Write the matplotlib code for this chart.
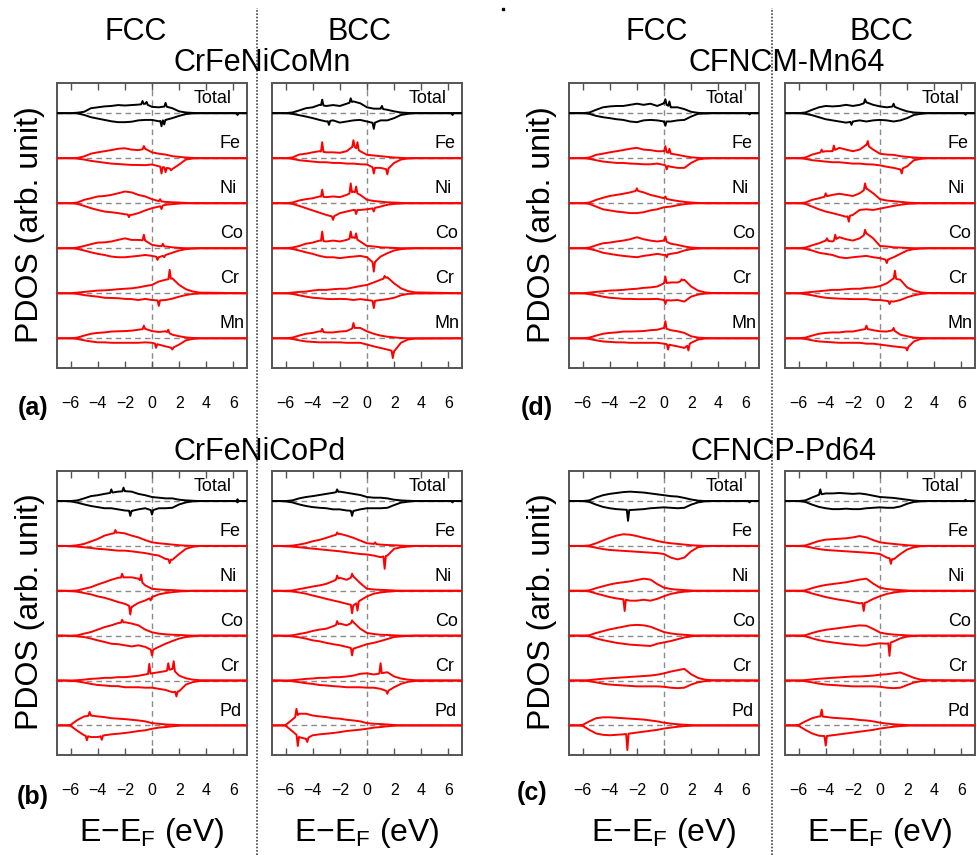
import numpy as np
import matplotlib.pyplot as plt
from matplotlib.lines import Line2D

plt.rcParams['font.family'] = 'Liberation Sans'
plt.rcParams['mathtext.default'] = 'regular'

# ---------- data: spin-resolved PDOS read on a 0.5 eV grid ----------
ENERGY = [-6.5, -6.0, -5.5, -5.0, -4.5, -4.0, -3.5, -3.0, -2.5, -2.0, -1.5,
          -1.0, -0.5, 0.0, 0.5, 1.0, 1.5, 2.0, 2.5, 3.0, 3.5]

SPECIES_MN = ["Total", "Fe", "Ni", "Co", "Cr", "Mn"]
SPECIES_PD = ["Total", "Fe", "Ni", "Co", "Cr", "Pd"]

# (a) CrFeNiCoMn, FCC
A_FCC_UP = [
    [0, 0, 0.1, 0.3, 1.1, 1.3, 1.5, 1.6, 1.8, 1.7, 1.8, 1.9, 2.1, 1.4, 1.3, 1.5, 1.1, 0.4, 0.15, 0.05, 0],
    [0, 0, 0.05, 0.4, 1.0, 1.3, 1.55, 1.8, 2.1, 2.2, 1.9, 1.8, 2.1, 1.3, 1.0, 0.8, 0.45, 0.3, 0.15, 0.07, 0],
    [0, 0, 0.15, 0.75, 1.1, 1.5, 1.6, 1.85, 2.2, 2.6, 2.4, 1.85, 1.5, 0.9, 0.45, 0.3, 0.2, 0.15, 0.07, 0, 0],
    [0, 0, 0.15, 0.5, 0.9, 1.25, 1.3, 1.5, 1.85, 2.2, 1.85, 1.85, 1.7, 0.75, 0.5, 0.4, 0.2, 0.07, 0, 0, 0],
    [0, 0, 0.15, 0.3, 0.45, 0.6, 0.65, 0.75, 0.9, 1.0, 1.1, 1.3, 1.6, 1.85, 2.6, 3.0, 3.3, 1.85, 0.9, 0.4, 0.15],
    [0, 0, 0.15, 0.6, 1.0, 1.2, 1.3, 1.5, 1.55, 1.6, 1.7, 1.9, 2.1, 1.6, 1.4, 1.55, 0.8, 0.45, 0.2, 0.07, 0],
]
A_FCC_DN = [
    [0, 0, -0.05, -0.4, -0.9, -1.2, -1.5, -1.8, -2.0, -2.0, -1.9, -1.6, -1.5, -1.5, -1.8, -1.5, -1.1, -0.6, -0.2, -0.05, 0],
    [0, 0, -0.1, -0.3, -0.6, -0.8, -1.0, -1.2, -1.3, -1.4, -1.5, -1.5, -1.55, -1.4, -1.8, -2.1, -2.4, -1.4, -0.3, -0.07, 0],
    [0, 0, -0.15, -0.6, -1.1, -1.5, -1.85, -2.0, -2.2, -2.45, -2.6, -2.2, -1.6, -1.1, -0.75, -0.35, -0.2, -0.07, 0, 0, 0],
    [0, 0, -0.15, -0.5, -0.9, -1.25, -1.5, -1.85, -2.0, -2.0, -1.85, -1.7, -1.5, -1.7, -2.0, -1.5, -1.0, -0.5, -0.2, -0.07, 0],
    [0, 0, -0.15, -0.4, -0.6, -0.75, -1.0, -1.05, -1.1, -1.25, -1.3, -1.5, -1.25, -1.5, -1.6, -1.5, -1.2, -0.75, -0.4, -0.15, -0.05],
    [0, 0, -0.15, -0.45, -0.7, -0.9, -0.9, -1.0, -1.0, -1.0, -1.0, -1.0, -0.9, -1.0, -1.4, -1.8, -2.15, -1.4, -0.45, -0.15, 0],
]
A_FCC_SPIKES = [(0, -0.7, 2.7), (0, -0.4, 2.5), (0, 1.0, 2.3), (0, 0.7, -2.9), (0, 0.9, -2.5), (0, 6.3, -0.4),
                (1, -0.6, 2.7), (1, 0.7, -3.4), (1, 1.0, -3.1), (1, 1.4, -2.7),
                (2, -1.7, -3.1), (2, 0.6, 0.9), (2, 0.7, -1.3),
                (3, -0.6, 3.0), (3, 0.8, 1.0), (3, 0.4, -2.6), (3, 0.9, -2.0),
                (4, 1.3, 5.2), (4, 0.5, -2.8),
                (5, -0.6, 2.8), (5, 1.2, 1.9), (5, 0.3, -2.1), (5, 1.5, -2.5)]

# (a) CrFeNiCoMn, BCC
A_BCC_UP = [
    [0, 0, 0.15, 0.6, 1.1, 1.3, 1.85, 1.6, 1.8, 1.6, 2.1, 2.6, 2.2, 1.3, 1.0, 1.0, 0.75, 0.4, 0.15, 0.05, 0],
    [0, 0, 0.15, 0.8, 1.0, 1.3, 1.55, 1.3, 1.3, 1.2, 1.55, 2.7, 1.55, 0.75, 0.6, 0.45, 0.3, 0.15, 0.07, 0, 0],
    [0, 0, 0.15, 0.6, 0.9, 1.1, 1.5, 1.35, 1.5, 1.35, 1.85, 2.6, 1.85, 0.75, 0.5, 0.35, 0.2, 0.15, 0.07, 0, 0],
    [0, 0, 0.15, 0.5, 1.0, 1.25, 1.7, 1.5, 1.7, 1.5, 1.85, 2.45, 1.5, 0.5, 0.4, 0.2, 0.15, 0.07, 0, 0, 0],
    [0, 0, 0.15, 0.3, 0.37, 0.6, 0.75, 0.75, 0.9, 1.0, 1.0, 1.3, 1.6, 1.85, 2.4, 3.0, 3.55, 2.2, 1.1, 0.5, 0.2],
    [0, 0, 0.15, 0.6, 1.0, 1.2, 1.55, 1.3, 1.3, 1.5, 1.6, 2.3, 2.3, 1.55, 1.0, 0.6, 0.35, 0.2, 0.07, 0, 0],
]
A_BCC_DN = [
    [0, 0, -0.15, -0.45, -0.75, -1.1, -1.5, -1.85, -1.6, -2.1, -1.85, -1.6, -1.5, -1.85, -2.2, -1.6, -1.6, -1.1, -0.4, -0.15, 0],
    [0, 0, -0.15, -0.45, -0.6, -0.75, -0.9, -0.9, -1.05, -1.05, -1.2, -1.2, -1.35, -1.4, -2.15, -2.15, -2.5, -1.05, -0.3, -0.07, 0],
    [0, 0, -0.15, -0.6, -1.1, -1.6, -2.1, -2.6, -3.0, -2.2, -1.85, -1.5, -1.5, -1.35, -1.1, -0.75, -0.35, -0.15, -0.07, 0, 0],
    [0, 0, -0.15, -0.5, -0.9, -1.25, -1.7, -2.0, -2.0, -2.2, -2.0, -1.85, -1.7, -2.0, -3.3, -1.85, -1.1, -0.5, -0.2, -0.07, 0],
    [0, 0, -0.15, -0.45, -0.75, -1.0, -1.1, -1.25, -1.3, -1.25, -1.3, -1.5, -1.3, -1.5, -1.7, -1.5, -1.3, -1.0, -0.45, -0.15, -0.05],
    [0, 0, -0.15, -0.45, -0.7, -0.8, -0.9, -0.9, -0.9, -0.9, -1.0, -1.0, -1.0, -1.4, -1.8, -2.15, -2.5, -2.9, -1.0, -0.3, -0.07],
]
A_BCC_SPIKES = [(0, -3.3, 3.0), (0, -1.2, 3.3), (0, 1.1, 1.6), (0, -2.8, -2.6), (0, 0.5, -3.5), (0, 6.3, -0.4),
                (1, -3.3, 3.55), (1, -1.0, 4.0), (1, -0.7, 3.55), (1, 0.5, -3.4), (1, 1.5, -3.6),
                (2, -3.3, 3.0), (2, -1.2, 4.4), (2, -0.8, 3.7), (2, -2.5, -3.7), (2, -0.8, -2.4), (2, 0.5, -1.85),
                (3, -3.3, 3.7), (3, -1.2, 3.7), (3, -0.8, 3.3), (3, 0.5, -5.2),
                (4, 1.3, 3.85), (4, 0.5, -3.3),
                (5, -3.3, 2.1), (5, -1.0, 3.4), (5, 1.9, -4.4)]

# (d) CFNCM-Mn64, FCC
D_FCC_UP = [
    [0, 0, 0.15, 0.75, 1.3, 1.5, 1.6, 1.6, 1.85, 2.1, 1.85, 2.1, 1.6, 2.2, 1.3, 1.3, 0.9, 0.3, 0.07, 0, 0],
    [0, 0, 0.15, 0.75, 1.0, 1.3, 1.55, 1.8, 2.1, 2.3, 1.9, 1.8, 1.55, 1.55, 1.0, 0.75, 0.45, 0.2, 0.07, 0, 0],
    [0, 0, 0.15, 0.75, 1.2, 1.6, 1.85, 2.1, 2.4, 2.8, 2.4, 1.85, 1.5, 1.1, 0.75, 0.5, 0.3, 0.15, 0.07, 0, 0],
    [0, 0, 0.15, 0.65, 1.1, 1.25, 1.5, 1.7, 2.0, 2.45, 2.0, 1.7, 1.5, 1.7, 1.0, 0.75, 0.4, 0.15, 0.07, 0, 0],
    [0, 0, 0.15, 0.3, 0.45, 0.6, 0.65, 0.75, 0.9, 1.0, 1.2, 1.3, 1.5, 2.2, 2.4, 2.4, 3.0, 1.5, 0.6, 0.2, 0.07],
    [0, 0, 0.15, 0.6, 1.0, 1.2, 1.3, 1.5, 1.5, 1.55, 1.6, 1.8, 1.9, 2.3, 1.8, 1.55, 1.2, 0.45, 0.15, 0.07, 0],
]
D_FCC_DN = [
    [0, 0, -0.15, -0.6, -0.9, -1.1, -1.35, -1.5, -1.85, -2.0, -1.6, -1.5, -1.6, -1.85, -1.85, -1.6, -1.5, -0.75, -0.15, -0.07, 0],
    [0, 0, -0.15, -0.45, -0.75, -0.9, -1.05, -1.05, -1.2, -1.25, -1.35, -1.35, -1.2, -1.5, -1.9, -2.15, -2.15, -1.05, -0.3, -0.07, 0],
    [0, 0, -0.15, -0.75, -1.35, -1.6, -1.85, -2.0, -2.2, -2.2, -2.0, -1.6, -1.35, -0.9, -0.75, -0.45, -0.2, -0.07, 0, 0, 0],
    [0, 0, -0.15, -0.5, -1.0, -1.25, -1.5, -1.7, -1.85, -2.0, -1.7, -1.5, -1.25, -1.5, -1.25, -1.0, -0.5, -0.2, -0.07, 0, 0],
    [0, 0, -0.2, -0.45, -0.75, -1.0, -1.1, -1.25, -1.25, -1.3, -1.3, -1.3, -1.25, -1.5, -1.6, -1.5, -1.85, -0.75, -0.3, -0.07, 0],
    [0, 0, -0.15, -0.45, -0.7, -0.8, -0.9, -0.9, -1.0, -1.0, -1.0, -1.0, -1.0, -1.2, -1.5, -1.8, -2.15, -1.0, -0.3, -0.07, 0],
]
D_FCC_SPIKES = [(0, 0.1, 3.1), (0, 0.4, 2.6), (0, 0.1, -2.8), (0, 6.3, -0.3),
                (1, 0.1, 2.7), (1, 0.4, 2.1), (1, 0.2, -2.5),
                (2, -2.0, 3.3), (2, 0.1, 1.5),
                (3, 0.1, 2.6), (3, 0.2, -2.0),
                (4, 0.1, 3.7), (4, 1.3, 3.1), (4, 0.1, -2.4),
                (5, 0.1, 3.8), (5, 0.3, -2.5), (5, 1.8, -2.7)]

# (d) CFNCM-Mn64, BCC
D_BCC_UP = [
    [0, 0, 0.15, 0.75, 1.3, 1.6, 1.5, 1.6, 1.85, 1.6, 1.85, 2.4, 1.85, 1.5, 1.3, 1.5, 0.9, 0.4, 0.15, 0.07, 0],
    [0, 0, 0.15, 0.8, 1.2, 1.55, 1.55, 2.3, 1.9, 1.55, 1.9, 3.0, 1.9, 1.0, 0.8, 0.75, 0.45, 0.3, 0.15, 0.07, 0],
    [0, 0, 0.15, 0.75, 1.1, 1.5, 1.85, 2.1, 1.85, 1.6, 2.2, 3.3, 2.2, 0.9, 0.6, 0.45, 0.3, 0.15, 0.07, 0, 0],
    [0, 0, 0.15, 0.65, 1.1, 1.7, 1.5, 2.45, 2.0, 1.7, 2.2, 3.3, 2.2, 0.5, 0.4, 0.2, 0.15, 0.07, 0, 0, 0],
    [0, 0, 0.15, 0.3, 0.45, 0.6, 0.75, 0.75, 0.9, 1.0, 1.0, 1.2, 1.3, 1.6, 2.2, 3.3, 3.0, 1.3, 0.6, 0.2, 0.07],
    [0, 0, 0.15, 0.6, 1.0, 1.2, 1.3, 1.3, 1.5, 1.5, 1.8, 2.1, 1.8, 1.55, 1.5, 1.8, 0.8, 0.45, 0.15, 0.07, 0],
]
D_BCC_DN = [
    [0, 0, -0.15, -0.45, -0.9, -1.35, -1.6, -1.85, -2.1, -1.85, -1.6, -1.85, -1.6, -1.5, -1.6, -1.85, -1.6, -1.1, -0.4, -0.15, 0],
    [0, 0, -0.15, -0.45, -0.6, -0.75, -0.9, -0.9, -1.05, -1.2, -1.2, -1.35, -1.4, -1.6, -1.9, -2.15, -2.5, -1.8, -0.45, -0.15, 0],
    [0, 0, -0.15, -0.75, -1.35, -1.85, -2.2, -2.6, -3.0, -2.6, -1.5, -1.35, -1.5, -1.2, -0.9, -0.6, -0.35, -0.15, -0.07, 0, 0],
    [0, 0, -0.15, -0.5, -1.0, -1.25, -1.5, -2.0, -2.2, -2.0, -1.85, -1.7, -2.0, -2.2, -2.6, -2.0, -1.25, -0.5, -0.2, -0.07, 0],
    [0, 0, -0.2, -0.45, -0.75, -1.0, -1.1, -1.2, -1.25, -1.3, -1.3, -1.3, -1.5, -1.5, -1.7, -1.85, -1.5, -0.9, -0.45, -0.15, 0],
    [0, 0, -0.15, -0.45, -0.7, -0.8, -0.9, -1.0, -1.0, -1.0, -1.0, -1.2, -1.2, -1.4, -1.6, -1.8, -1.95, -2.15, -0.7, -0.15, 0],
]
D_BCC_SPIKES = [(0, -1.1, 3.1), (0, 1.0, 2.1), (0, -2.1, -2.6), (0, 6.3, -0.35),
                (1, -4.3, 1.9), (1, -3.4, 2.8), (1, -0.9, 3.8), (1, 1.6, -3.4),
                (2, -4.0, 2.2), (2, -1.1, 4.4), (2, -2.3, -4.1),
                (3, -3.9, 2.2), (3, -3.3, 3.0), (3, -1.1, 4.1), (3, 0.5, -3.3),
                (4, 1.1, 5.0), (4, 0.7, -2.4),
                (5, -1.0, 2.8), (5, 1.0, 2.3), (5, 2.0, -2.7)]

# (b) CrFeNiCoPd, FCC
B_FCC_UP = [
    [0, 0, 0.15, 0.6, 1.1, 1.3, 1.6, 1.85, 2.1, 2.2, 2.1, 1.6, 1.3, 0.9, 0.75, 0.6, 0.6, 0.3, 0.15, 0.07, 0],
    [0, 0, 0.15, 0.45, 1.0, 1.55, 2.3, 2.7, 3.0, 2.8, 2.3, 1.9, 1.3, 0.8, 0.6, 0.45, 0.3, 0.15, 0.07, 0, 0],
    [0, 0, 0.07, 0.45, 0.8, 1.4, 1.9, 2.45, 2.9, 3.0, 3.0, 2.7, 1.2, 0.45, 0.3, 0.2, 0.15, 0.07, 0, 0, 0],
    [0, 0, 0.07, 0.45, 0.8, 1.35, 1.9, 2.3, 2.8, 3.0, 2.7, 2.3, 1.35, 0.75, 0.45, 0.3, 0.2, 0.15, 0.07, 0, 0],
    [0, 0, 0.07, 0.2, 0.37, 0.45, 0.6, 0.6, 0.75, 0.75, 0.9, 1.05, 1.35, 1.6, 1.85, 2.1, 2.6, 1.1, 0.5, 0.2, 0.07],
    [0, 0.1, 1.2, 2.0, 2.2, 2.0, 1.85, 1.6, 1.5, 1.4, 1.25, 1.1, 0.9, 0.5, 0.37, 0.2, 0.15, 0.07, 0, 0, 0],
]
B_FCC_DN = [
    [0, -0.07, -0.35, -0.75, -1.1, -1.35, -1.6, -1.6, -1.85, -2.1, -2.2, -1.85, -1.6, -2.1, -1.6, -1.6, -1.5, -0.75, -0.3, -0.07, 0],
    [0, -0.07, -0.15, -0.3, -0.45, -0.65, -0.75, -0.9, -1.05, -1.05, -1.2, -1.4, -1.6, -1.9, -2.15, -2.9, -3.1, -1.8, -0.65, -0.2, 0],
    [0, -0.07, -0.2, -0.5, -0.8, -1.25, -1.55, -2.0, -2.5, -2.9, -3.6, -2.7, -2.15, -1.4, -0.8, -0.5, -0.3, -0.15, -0.07, 0, 0],
    [0, -0.07, -0.15, -0.3, -0.65, -1.05, -1.4, -1.8, -1.9, -2.15, -2.4, -2.15, -2.5, -3.25, -2.5, -1.8, -1.2, -0.65, -0.3, -0.15, 0],
    [0, -0.07, -0.2, -0.45, -0.75, -1.0, -1.1, -1.25, -1.25, -1.5, -1.5, -1.5, -1.6, -1.6, -1.85, -2.1, -2.6, -2.4, -0.9, -0.35, -0.1],
    [0, -0.1, -1.2, -2.2, -2.6, -2.6, -2.2, -2.0, -1.85, -1.7, -1.5, -1.25, -1.1, -0.75, -0.5, -0.37, -0.2, -0.07, 0, 0, 0],
]
B_FCC_SPIKES = [(0, -3.0, 2.6), (0, -2.1, 3.0), (0, -1.6, -3.3), (0, 0.0, -3.0), (0, 6.3, 0.4), (0, 6.3, -0.3),
                (1, -2.7, 3.55), (1, 1.3, -3.85),
                (2, -2.2, 3.8), (2, -0.8, 3.6), (2, -1.6, -5.3), (2, -0.1, -2.15),
                (3, -2.2, 3.55), (3, 0.0, -4.4),
                (4, -0.2, 3.7), (4, 1.2, 3.85), (4, 1.6, 4.3), (4, 1.8, -3.55),
                (5, -4.6, 3.0), (5, -4.8, -3.3), (5, -3.7, -3.2)]

# (b) CrFeNiCoPd, BCC
B_BCC_UP = [
    [0, 0, 0.15, 0.6, 0.9, 1.1, 1.35, 1.6, 1.85, 2.1, 1.85, 1.6, 1.35, 0.9, 0.75, 0.75, 0.6, 0.3, 0.15, 0.07, 0],
    [0, 0, 0.07, 0.3, 0.6, 1.05, 1.35, 1.8, 2.3, 2.7, 2.3, 1.8, 1.2, 0.6, 0.45, 0.3, 0.2, 0.15, 0.07, 0, 0],
    [0, 0, 0.07, 0.37, 0.65, 0.95, 1.2, 1.55, 2.15, 2.9, 2.45, 3.2, 1.7, 0.45, 0.3, 0.2, 0.15, 0.07, 0, 0, 0],
    [0, 0, 0.07, 0.37, 0.65, 1.05, 1.35, 1.55, 2.1, 2.7, 2.3, 3.0, 1.55, 0.6, 0.37, 0.2, 0.15, 0.07, 0, 0, 0],
    [0, 0, 0.07, 0.2, 0.37, 0.45, 0.6, 0.6, 0.75, 0.75, 0.9, 1.1, 1.5, 1.6, 1.35, 1.6, 1.85, 0.9, 0.45, 0.2, 0.07],
    [0, 0.07, 1.3, 2.6, 2.6, 2.2, 2.0, 1.85, 1.6, 1.5, 1.25, 1.1, 0.9, 0.5, 0.37, 0.3, 0.2, 0.07, 0, 0, 0],
]
B_BCC_DN = [
    [0, -0.07, -0.3, -0.75, -1.1, -1.35, -1.5, -1.6, -1.85, -1.85, -2.1, -2.2, -1.85, -1.6, -1.6, -1.6, -1.5, -0.9, -0.35, -0.15, 0],
    [0, -0.07, -0.15, -0.3, -0.45, -0.6, -0.75, -0.9, -1.05, -1.2, -1.4, -1.6, -1.8, -1.9, -2.15, -2.5, -2.15, -0.65, -0.3, -0.15, 0],
    [0, -0.07, -0.15, -0.37, -0.65, -1.05, -1.4, -1.8, -2.15, -2.5, -2.9, -3.25, -2.15, -1.25, -0.65, -0.37, -0.2, -0.07, 0, 0, 0],
    [0, -0.07, -0.15, -0.37, -0.65, -1.05, -1.25, -1.6, -1.9, -2.15, -2.5, -2.9, -2.4, -1.9, -1.6, -1.2, -0.75, -0.3, -0.15, -0.07, 0],
    [0, -0.07, -0.15, -0.37, -0.6, -0.75, -1.0, -1.1, -1.25, -1.35, -1.5, -1.5, -1.5, -1.6, -1.6, -1.85, -2.4, -1.5, -0.75, -0.3, -0.1],
    [0, -0.07, -1.3, -2.6, -3.0, -2.2, -2.0, -1.85, -1.7, -1.5, -1.25, -1.1, -0.95, -0.75, -0.5, -0.37, -0.2, -0.07, 0, 0, 0],
]
B_BCC_SPIKES = [(0, -2.2, 2.6), (0, -1.1, -3.3), (0, 6.3, -0.3),
                (1, -2.2, 3.0), (1, 0.6, 0.8), (1, 1.3, -5.1),
                (2, -2.2, 3.4), (2, -1.1, 3.8), (2, -1.1, -5.0), (2, -0.7, -4.4),
                (3, -2.2, 3.25), (3, -1.1, 3.4), (3, -1.1, -4.4),
                (4, 1.0, 3.85), (4, 1.5, -2.95),
                (5, -5.2, 3.7), (5, -5.1, -4.6), (5, -4.4, -3.7)]

# (c) CFNCP-Pd64, FCC
C_FCC_UP = [
    [0, 0, 0.15, 0.8, 1.3, 1.6, 1.8, 2.0, 2.1, 2.0, 1.9, 1.7, 1.5, 1.3, 1.1, 1.0, 0.7, 0.35, 0.1, 0, 0],
    [0, 0, 0.1, 0.6, 1.2, 1.8, 2.3, 2.6, 2.5, 2.2, 1.8, 1.5, 1.1, 0.8, 0.6, 0.45, 0.3, 0.15, 0.07, 0, 0],
    [0, 0, 0.1, 0.6, 1.0, 1.4, 1.7, 1.9, 2.1, 2.4, 2.7, 2.5, 1.5, 0.7, 0.4, 0.25, 0.15, 0.07, 0, 0, 0],
    [0, 0, 0.1, 0.6, 1.0, 1.4, 1.7, 2.0, 2.3, 2.4, 2.3, 2.0, 1.4, 0.8, 0.5, 0.3, 0.2, 0.07, 0, 0, 0],
    [0, 0, 0.1, 0.25, 0.4, 0.5, 0.6, 0.7, 0.8, 0.9, 1.0, 1.1, 1.3, 1.6, 2.0, 2.3, 2.6, 1.4, 0.6, 0.2, 0.07],
    [0, 0.1, 0.9, 1.6, 1.8, 1.8, 1.7, 1.6, 1.5, 1.4, 1.3, 1.1, 0.9, 0.6, 0.4, 0.25, 0.15, 0.07, 0, 0, 0],
]
C_FCC_DN = [
    [0, 0, -0.2, -0.8, -1.3, -1.6, -1.8, -1.9, -2.0, -1.9, -1.8, -1.6, -1.5, -1.4, -1.5, -1.6, -1.5, -0.8, -0.3, -0.07, 0],
    [0, 0, -0.1, -0.4, -0.7, -0.9, -1.0, -1.1, -1.2, -1.3, -1.4, -1.5, -1.6, -1.8, -2.6, -3.0, -2.6, -1.2, -0.3, -0.07, 0],
    [0, 0, -0.15, -0.6, -1.0, -1.4, -1.7, -1.9, -2.2, -2.2, -2.0, -2.2, -1.8, -1.2, -0.7, -0.4, -0.2, -0.07, 0, 0, 0],
    [0, 0, -0.15, -0.6, -1.0, -1.3, -1.6, -1.8, -2.0, -2.1, -2.2, -2.3, -1.8, -1.5, -1.2, -0.8, -0.4, -0.15, 0, 0, 0],
    [0, 0, -0.15, -0.4, -0.7, -0.9, -1.0, -1.1, -1.2, -1.3, -1.3, -1.3, -1.3, -1.4, -1.6, -1.7, -1.6, -0.9, -0.4, -0.15, 0],
    [0, -0.1, -1.0, -1.8, -2.1, -2.2, -2.1, -2.0, -1.8, -1.6, -1.4, -1.2, -1.0, -0.7, -0.5, -0.3, -0.15, -0.07, 0, 0, 0],
]
C_FCC_SPIKES = [(0, -2.65, -4.4), (0, 6.3, -0.3),
                (2, -2.9, -4.5),
                (5, -2.7, -5.5)]

# (c) CFNCP-Pd64, BCC
C_BCC_UP = [
    [0, 0, 0.15, 0.8, 1.4, 1.7, 1.7, 1.8, 1.7, 1.6, 1.7, 1.5, 1.2, 0.9, 0.8, 0.7, 0.5, 0.3, 0.1, 0, 0],
    [0, 0, 0.1, 0.6, 1.1, 1.4, 1.5, 1.6, 1.7, 1.9, 2.2, 1.9, 1.3, 0.8, 0.6, 0.45, 0.3, 0.15, 0.07, 0, 0],
    [0, 0, 0.1, 0.6, 1.0, 1.3, 1.5, 1.7, 1.9, 2.2, 2.5, 2.7, 1.6, 0.7, 0.4, 0.25, 0.15, 0.07, 0, 0, 0],
    [0, 0, 0.1, 0.6, 1.0, 1.3, 1.5, 1.7, 1.9, 2.1, 2.3, 2.2, 1.5, 0.7, 0.4, 0.25, 0.15, 0.07, 0, 0, 0],
    [0, 0, 0.1, 0.25, 0.4, 0.5, 0.6, 0.7, 0.8, 0.9, 0.9, 1.0, 1.1, 1.3, 1.4, 1.6, 1.8, 1.2, 0.6, 0.2, 0.07],
    [0, 0.1, 0.9, 1.6, 2.0, 1.9, 1.7, 1.6, 1.5, 1.4, 1.2, 1.1, 0.9, 0.6, 0.4, 0.25, 0.15, 0.07, 0, 0, 0],
]
C_BCC_DN = [
    [0, 0, -0.2, -0.8, -1.3, -1.6, -1.8, -1.8, -1.7, -1.8, -1.8, -1.6, -1.5, -1.4, -1.5, -1.5, -1.2, -0.6, -0.2, -0.07, 0],
    [0, 0, -0.1, -0.4, -0.7, -0.9, -1.0, -1.1, -1.2, -1.3, -1.4, -1.5, -1.6, -1.8, -2.6, -3.0, -1.8, -0.8, -0.3, -0.07, 0],
    [0, 0, -0.15, -0.6, -1.0, -1.4, -1.7, -2.0, -2.2, -2.5, -2.8, -2.6, -1.8, -1.2, -0.7, -0.4, -0.2, -0.07, 0, 0, 0],
    [0, 0, -0.15, -0.6, -1.0, -1.3, -1.5, -1.7, -1.9, -2.0, -2.2, -2.2, -1.9, -1.7, -1.8, -1.3, -0.6, -0.2, -0.07, 0, 0],
    [0, 0, -0.15, -0.4, -0.7, -0.9, -1.0, -1.1, -1.2, -1.3, -1.3, -1.3, -1.3, -1.4, -1.6, -1.7, -1.6, -1.0, -0.45, -0.15, 0],
    [0, -0.1, -1.0, -1.8, -2.3, -2.4, -2.2, -2.0, -1.8, -1.6, -1.4, -1.2, -1.0, -0.7, -0.5, -0.3, -0.15, -0.07, 0, 0, 0],
]
C_BCC_SPIKES = [(0, -4.4, 2.6), (0, 6.3, 0.3),
                (1, 0.8, -4.0),
                (2, -1.2, -4.5),
                (3, 0.7, -4.5),
                (5, -4.3, 3.5), (5, -4.0, -4.5)]

# ---------- drawing helpers ----------
XLIM = (-7.0, 7.0)
YLIM = (-6.6, 56.7)
STEP = 10.0          # vertical spacing between species
SPIKE_W = 0.09       # half-width of a sharp peak (eV)
GRID_E = np.array(ENERGY)


def spin_line(values, peaks):
    vals = np.array(values, dtype=float)
    keep = np.ones(len(GRID_E), bool)
    e_pts, v_pts = [], []
    for e0, h in peaks:
        keep &= np.abs(GRID_E - e0) > SPIKE_W
        sides = np.interp([e0 - SPIKE_W, e0 + SPIKE_W], GRID_E, vals, left=0, right=0)
        e_pts += [e0 - SPIKE_W, e0, e0 + SPIKE_W]
        v_pts += [sides[0], h, sides[1]]
    e_all = np.r_[GRID_E[keep], e_pts]
    v_all = np.r_[vals[keep], v_pts]
    order = np.argsort(e_all, kind="stable")
    e_all = np.r_[XLIM[0], e_all[order], XLIM[1]]
    v_all = np.r_[0, v_all[order], 0]
    return e_all, v_all


def draw_panel(ax, up, dn, spikes, species):
    n = len(species)
    for i, name in enumerate(species):
        base = (n - 1 - i) * STEP
        color = "black" if name == "Total" else "#ff0000"
        ax.axhline(base, color="#8a8a8a", lw=1.0, ls=(0, (4, 3)), zorder=1)
        pk_up = [(e, h) for k, e, h in spikes if k == i and h > 0]
        pk_dn = [(e, h) for k, e, h in spikes if k == i and h < 0]
        for vals, pk in ((up[i], pk_up), (dn[i], pk_dn)):
            x, y = spin_line(vals, pk)
            ax.plot(x, y + base, color=color, lw=1.4, zorder=3)
        lx = 3.05 if name == "Total" else 5.0
        ax.text(lx, base + 3.2, name, fontsize=13, ha="left", va="center")
    ax.axvline(0, color="#8a8a8a", lw=1.0, ls=(0, (4, 3)), zorder=1)
    ax.set_xlim(*XLIM)
    ax.set_ylim(*YLIM)
    ax.set_xticks([-6, -4, -2, 0, 2, 4, 6])
    ax.set_xticklabels(["\u22126", "\u22124", "\u22122", "0", "2", "4", "6"])
    ax.set_yticks([])
    ax.tick_params(axis="x", direction="in", top=True, length=5, width=1,
                   color="#555555", labelsize=11.5, pad=20)
    for s in ax.spines.values():
        s.set_color("#555555")
        s.set_linewidth(1.4)


# ---------- figure ----------
W, H = 977, 855
fig = plt.figure(figsize=(W / 100, H / 100), dpi=100)


def px_axes(x0, y0, x1, y1):
    return fig.add_axes([x0 / W, 1 - y1 / H, (x1 - x0) / W, (y1 - y0) / H])


panels = [
    (57, 83, 247, 368, A_FCC_UP, A_FCC_DN, A_FCC_SPIKES, SPECIES_MN),
    (272, 83, 462, 368, A_BCC_UP, A_BCC_DN, A_BCC_SPIKES, SPECIES_MN),
    (569, 83, 759, 368, D_FCC_UP, D_FCC_DN, D_FCC_SPIKES, SPECIES_MN),
    (785, 83, 975, 368, D_BCC_UP, D_BCC_DN, D_BCC_SPIKES, SPECIES_MN),
    (57, 471, 247, 755, B_FCC_UP, B_FCC_DN, B_FCC_SPIKES, SPECIES_PD),
    (272, 471, 462, 755, B_BCC_UP, B_BCC_DN, B_BCC_SPIKES, SPECIES_PD),
    (569, 471, 759, 755, C_FCC_UP, C_FCC_DN, C_FCC_SPIKES, SPECIES_PD),
    (785, 471, 975, 755, C_BCC_UP, C_BCC_DN, C_BCC_SPIKES, SPECIES_PD),
]
bottom_axes = []
for x0, y0, x1, y1, up, dn, spk, sp in panels:
    ax = px_axes(x0, y0, x1, y1)
    draw_panel(ax, up, dn, spk, sp)
    if y0 > 400:
        bottom_axes.append((x0 + x1) / 2)


def ftext(x, y, s, **kw):
    fig.text(x / W, 1 - y / H, s, ha="center", va="center", **kw)


# structure and alloy titles
for x, s in [(136, "FCC"), (360, "BCC"), (657, "FCC"), (881, "BCC")]:
    ftext(x, 32, s, fontsize=22)
ftext(262, 63, "CrFeNiCoMn", fontsize=22)
ftext(787, 63, "CFNCM-Mn64", fontsize=22)
ftext(260, 452, "CrFeNiCoPd", fontsize=22)
ftext(783, 452, "CFNCP-Pd64", fontsize=22)

# panel letters
for x, y, s in [(33, 408, "(a)"), (537, 408, "(d)"), (33, 797, "(b)"), (532, 793, "(c)")]:
    ftext(x, y, s, fontsize=18, fontweight="bold")

# axis titles
for x, y in [(30, 225), (542, 225), (30, 612), (542, 612)]:
    ftext(x, y, "PDOS (arb. unit)", fontsize=23, rotation=90)
for x in bottom_axes:
    ftext(x, 833, "E\u2212E$_F$ (eV)", fontsize=23)

# dotted separators between FCC and BCC columns
for x in (257, 772):
    fig.add_artist(Line2D([x / W, x / W], [0.0, 1 - 8 / H], transform=fig.transFigure,
                          color="#444444", lw=1.2, ls=(0, (1, 1))))
fig.add_artist(Line2D([503 / W], [1 - 9 / H], transform=fig.transFigure,
                      marker="s", ms=1.5, color="black", lw=0))

fig.savefig("out.png", dpi=100)
